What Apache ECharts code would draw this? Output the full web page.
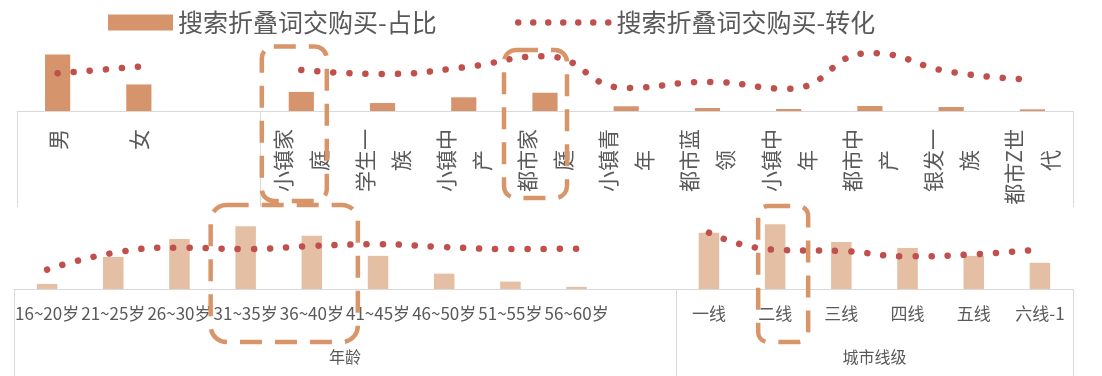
<!DOCTYPE html>
<html>
<head>
<meta charset="utf-8">
<script src="https://cdn.jsdelivr.net/npm/echarts@6/dist/echarts.min.js"></script>
<style>
  html, body { margin: 0; padding: 0; background: #ffffff; }
  #chart { width: 1102px; height: 376px; }
</style>
</head>
<body>
<div id="chart"></div>
<script>
// ---- data ----
const shareName = '搜索折叠词交购买-占比';
const convName = '搜索折叠词交购买-转化';

const genderCats = ['男', '女'];
const genderShare = [68, 32];
const genderConv = [2.27, 2.67];

const segmentCats = ['小镇家庭', '学生一族', '小镇中产', '都市家庭', '小镇青年', '都市蓝领', '小镇中年', '都市中产', '银发一族', '都市Z世代'];
const segmentShare = [23, 9.6, 16.5, 22, 5.7, 3.6, 2.4, 6, 4.8, 2];
const segmentConv = [2.47, 2.23, 2.63, 3.30, 1.39, 1.75, 1.34, 3.49, 2.35, 1.90];

const ageGroupName = '年龄';
const ageCats = ['16~20岁', '21~25岁', '26~30岁', '31~35岁', '36~40岁', '41~45岁', '46~50岁', '51~55岁', '56~60岁'];
const ageShare = [1.9, 12.1, 18.9, 23.7, 20.1, 12.5, 5.8, 2.8, 0.8];
const ageConv = [2.43, 4.53, 5.20, 5.03, 5.41, 5.62, 5.28, 5.03, 5.07];

const cityGroupName = '城市线级';
const cityCats = ['一线', '二线', '三线', '四线', '五线', '六线-1'];
const cityShare = [21.2, 24.4, 17.7, 15.5, 12.5, 9.9];
const cityConv = [7.08, 4.93, 4.78, 4.11, 4.36, 4.97];

// ---- layout / style ----
const FONT = '"Noto Sans CJK SC", "Microsoft YaHei", sans-serif';
const TEXT = '#595959';
const AXIS = '#d9d9d9';
const BAR_TOP = '#d6946c';
const BAR_BOTTOM = '#e5bfa4';
const DOT = '#c0504d';
const NOTE = '#d9956a';

// one empty slot separates the groups on each axis
const topCats = [...genderCats, '', ...segmentCats];
const topShare = [...genderShare, '-', ...segmentShare];
const topConv = [...genderConv, '-', ...segmentConv];
const topSplit = genderCats.length + 1;

const bottomCats = [...ageCats, ' ', ...cityCats];
const bottomShare = [...ageShare, '-', ...cityShare];
const bottomConv = [...ageConv, '-', ...cityConv];
const bottomSplit = ageCats.length + 1;

const chart = echarts.init(document.getElementById('chart'), null, { renderer: 'canvas' });
const W = chart.getWidth();

const bottomGrid = { left: 14, right: 29, top: 209.5, height: 79.5 };
const bandW = (W - bottomGrid.left - bottomGrid.right) / bottomCats.length;

// group captions sit on the boundary between the two middle slots of each group
const groupLabelAt = {};
groupLabelAt[bottomSplit / 2] = ageGroupName;
groupLabelAt[bottomSplit + cityCats.length / 2] = cityGroupName;

// sharp-cornered swatch for the bar legend
const swatchPath = 'path://M0,0H65V16H0Z';

// row of round dots used as the line legend icon
let dotPath = 'path://';
for (let i = 0; i < 7; i++) {
  const cx = 3.25 + i * 15;
  dotPath += `M${cx - 3.25},3.25a3.25,3.25 0 1,0 6.5,0a3.25,3.25 0 1,0 -6.5,0z`;
}

const dottedLine = { color: DOT, width: 6.5, type: [0.1, 16], cap: 'round' };

const option = {
  animation: false,
  textStyle: { fontFamily: FONT },
  legend: [
    {
      left: 103, top: 5, itemWidth: 65, itemHeight: 16, itemGap: 0,
      icon: swatchPath, selectedMode: false, data: [shareName],
      itemStyle: { color: BAR_TOP, borderWidth: 0 },
      textStyle: { fontSize: 25, color: TEXT, fontFamily: FONT }
    },
    {
      left: 510, top: 5, itemWidth: 96.5, itemHeight: 6.5, itemGap: 0,
      selectedMode: false, icon: dotPath,
      itemStyle: { color: DOT, borderWidth: 0 },
      data: [convName],
      textStyle: { fontSize: 25, color: TEXT, fontFamily: FONT }
    }
  ],
  grid: [
    { left: 17, right: 29, top: 28, height: 83 },
    bottomGrid
  ],
  xAxis: [
    {
      gridIndex: 0, type: 'category', data: topCats,
      axisLine: { lineStyle: { color: AXIS, width: 1 } },
      axisTick: {
        show: true, length: 96, lineStyle: { color: AXIS },
        interval: (idx) => idx === 0 || idx === topSplit
      },
      axisLabel: {
        interval: 0, rotate: 90, margin: 18, fontSize: 21, lineHeight: 36,
        color: TEXT, fontFamily: FONT,
        formatter: (v) => {
          if (v.length < 4) return v;
          // last character wraps onto its own centred line
          return v.slice(0, -1) + '\n' + v.slice(-1) + '\u3000';
        }
      }
    },
    {
      gridIndex: 1, type: 'category', data: bottomCats,
      axisLine: { lineStyle: { color: AXIS, width: 1 } },
      axisTick: {
        show: true, length: 90, lineStyle: { color: AXIS },
        interval: (idx) => idx === 0 || idx === bottomSplit
      },
      axisLabel: { interval: 0, margin: 16, fontSize: 17, color: TEXT, fontFamily: FONT }
    },
    {
      gridIndex: 1, type: 'category', data: bottomCats, position: 'bottom',
      axisLine: { show: false }, axisTick: { show: false },
      axisLabel: {
        interval: 0, margin: 60, fontSize: 16, color: TEXT, fontFamily: FONT,
        padding: [0, bandW, 0, 0],
        formatter: (v, idx) => groupLabelAt[idx] || ''
      }
    }
  ],
  yAxis: [
    { gridIndex: 0, type: 'value', min: 0, max: 100, show: false },
    { gridIndex: 0, type: 'value', min: 0, max: 5, show: false },
    { gridIndex: 1, type: 'value', min: 0, max: 30, show: false },
    { gridIndex: 1, type: 'value', min: 0, max: 10, show: false }
  ],
  series: [
    {
      name: shareName, type: 'bar', xAxisIndex: 0, yAxisIndex: 0,
      data: topShare, barWidth: '31%', itemStyle: { color: BAR_TOP }, silent: true
    },
    {
      name: convName, type: 'line', xAxisIndex: 0, yAxisIndex: 1,
      data: topConv, smooth: true, symbol: 'none', connectNulls: false,
      itemStyle: { color: DOT }, lineStyle: dottedLine, silent: true
    },
    {
      name: shareName, type: 'bar', xAxisIndex: 1, yAxisIndex: 2,
      data: bottomShare, barWidth: '31%', itemStyle: { color: BAR_BOTTOM }, silent: true
    },
    {
      name: convName, type: 'line', xAxisIndex: 1, yAxisIndex: 3,
      data: bottomConv, smooth: true, symbol: 'none', connectNulls: false,
      itemStyle: { color: DOT }, lineStyle: dottedLine, silent: true
    }
  ]
};

chart.setOption(option);

// dashed rounded call-out boxes around highlighted categories
const px = (axis, cat) => chart.convertToPixel({ xAxisIndex: axis }, cat);
function box(x0, x1, y0, y1, r) {
  return {
    type: 'rect', z: 100, silent: true,
    shape: { x: x0, y: y0, width: x1 - x0, height: y1 - y0, r: r },
    style: { fill: null, stroke: NOTE, lineWidth: 4.5, lineDash: [22, 13] }
  };
}
const c1 = px(0, '小镇家庭');
const c2 = px(0, '都市家庭');
const c3a = px(1, '31~35岁');
const c3b = px(1, '36~40岁');
const c4 = px(1, '二线');
chart.setOption({
  graphic: [
    box(c1 - 39.5, c1 + 25.5, 46.5, 201, 12),
    box(c2 - 41, c2 + 22, 50, 198, 12),
    box(c3a - 35, c3b + 46, 205, 342, 16),
    box(c4 - 17, c4 + 33, 206, 342, 10)
  ]
});
</script>
</body>
</html>
